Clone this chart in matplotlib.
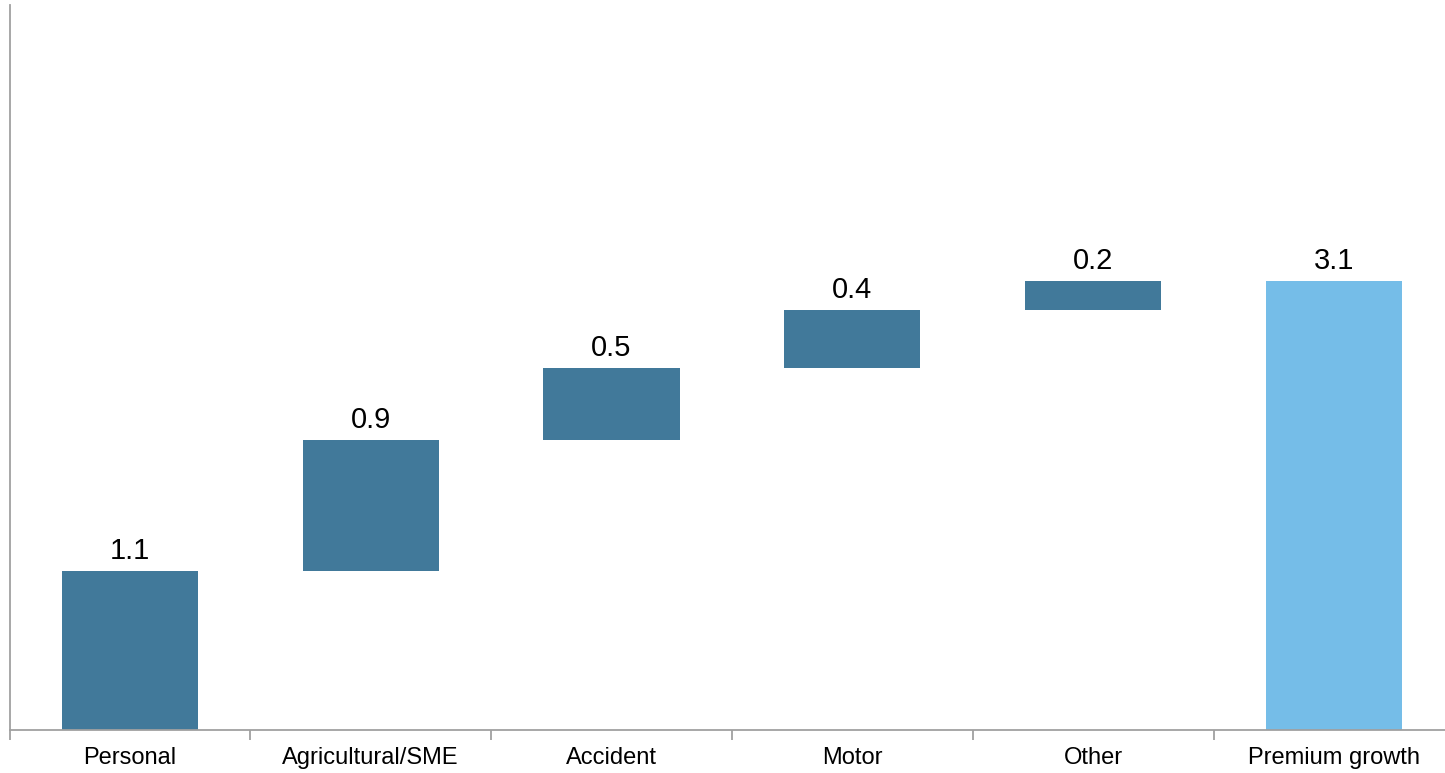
import numpy as np
import matplotlib.pyplot as plt

plt.rcParams['font.family'] = ['Liberation Sans', 'DejaVu Sans']

categories = ['Personal', 'Agricultural/SME', 'Accident', 'Motor', 'Other', 'Premium growth']
changes = [1.1, 0.9, 0.5, 0.4, 0.2]
total = 3.1

# waterfall bottoms from the running sum
bottoms = list(np.concatenate([[0], np.cumsum(changes)[:-1]])) + [0]
heights = changes + [total]
labels = [f'{v:.1f}' for v in heights]
colors = ['#41799A'] * len(changes) + ['#75BDE8']

fig = plt.figure(figsize=(14.45, 7.73), dpi=100)
# axes runs a little past the right edge, as in the source
ax = fig.add_axes([9.5 / 1445, 43 / 773, 6 * 240.8 / 1445, 725 / 773])

x = np.arange(len(categories))
bars = ax.bar(x, heights, bottom=bottoms, width=0.565, color=colors)

for b, lab in zip(bars, labels):
    ax.annotate(lab, (b.get_x() + b.get_width() / 2, b.get_y() + b.get_height()),
                xytext=(0, 4), textcoords='offset points',
                ha='center', va='bottom', fontsize=21)

ax.set_xlim(-0.5, 5.5)
ax.set_ylim(0, 5)

ax.set_xticks(x)
ax.set_xticklabels(categories, fontsize=17)
ax.set_xticks(np.arange(-0.5, 5.6, 1), minor=True)
ax.tick_params(axis='x', which='major', length=0, pad=12)
ax.tick_params(axis='x', which='minor', length=7, color='#A0A0A0', width=1.3)
ax.set_yticks([])

for s in ['top', 'right']:
    ax.spines[s].set_visible(False)
for s in ['left', 'bottom']:
    ax.spines[s].set_color('#A0A0A0')
    ax.spines[s].set_linewidth(1.3)

fig.savefig('out.png', dpi=100)
